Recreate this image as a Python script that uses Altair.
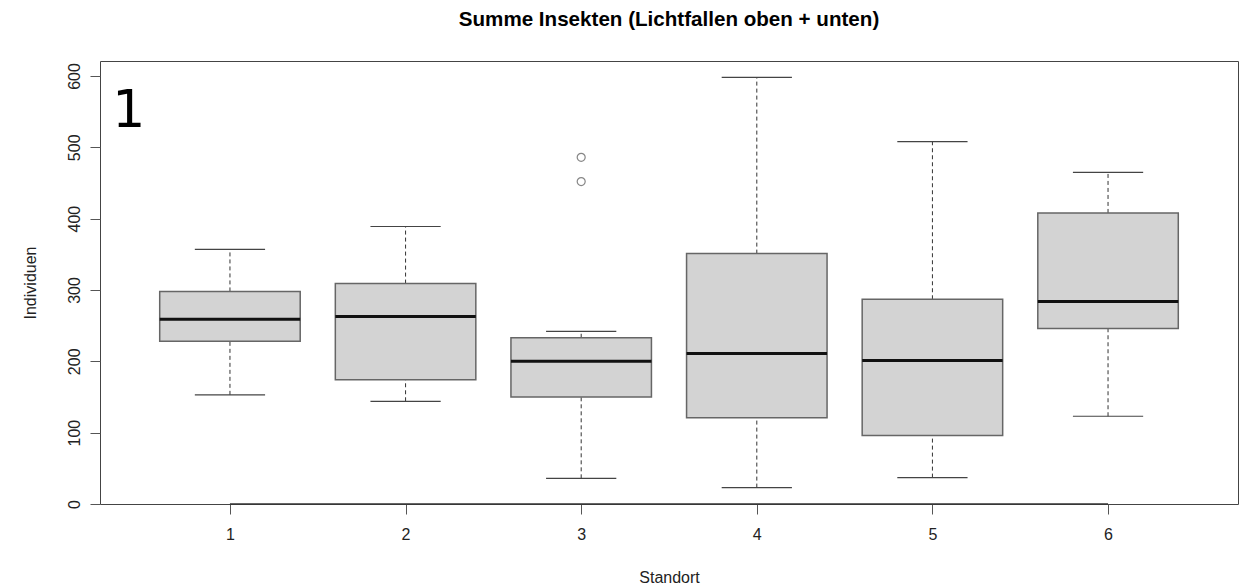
import altair as alt
import pandas as pd

# Five-number summaries per site (Standort)
standort = [1, 2, 3, 4, 5, 6]
lower_whisker = [153, 144, 36, 23, 37, 123]
q1 = [228, 174, 150, 121, 96, 246]
median = [259, 263, 200, 211, 201, 284]
q3 = [298, 309, 233, 351, 287, 408]
upper_whisker = [357, 389, 242, 598, 508, 465]

# Points beyond the whiskers
outlier_site = [3, 3]
outlier_value = [486, 452]

x_ticks = [1, 2, 3, 4, 5, 6]
y_ticks = [0, 100, 200, 300, 400, 500, 600]

stats = pd.DataFrame({
    "standort": standort,
    "lo": lower_whisker,
    "q1": q1,
    "med": median,
    "q3": q3,
    "hi": upper_whisker,
})
outliers = pd.DataFrame({"standort": outlier_site, "value": outlier_value})
panel_label = pd.DataFrame({"x": [0.33], "y": [528], "text": ["1"]})
axis_span = pd.DataFrame({"x": [min(x_ticks)], "x2": [max(x_ticks)], "y": [0]})

FONT = "Liberation Sans"
W, H = 1138, 443

x_scale = alt.Scale(domain=[0.26, 6.74], nice=False, zero=False)
y_scale = alt.Scale(domain=[0, 621], nice=False, zero=False)

x_axis = alt.Axis(
    values=x_ticks, format="d", title="Standort", grid=False, domain=False,
    tickSize=10, tickColor="#555", tickWidth=1, labelPadding=12,
    labelFont=FONT, labelFontSize=16, labelColor="#222",
    titleFont=FONT, titleFontSize=16, titleFontWeight="normal", titleColor="#222",
    titleY=73, titleBaseline="middle",
)
y_axis = alt.Axis(
    values=y_ticks, format="d", title="Individuen", grid=False, domain=False,
    tickSize=10, tickColor="#555", tickWidth=1, labelPadding=11,
    labelAngle=270, labelAlign="center", labelBaseline="alphabetic",
    labelFont=FONT, labelFontSize=16, labelColor="#222",
    titleFont=FONT, titleFontSize=16, titleFontWeight="normal", titleColor="#222",
    titleX=-70, titleY=H / 2, titleAngle=270, titleBaseline="middle",
)


def X(field):
    return alt.X(field, type="quantitative", scale=x_scale, axis=x_axis)


def Y(field):
    return alt.Y(field, type="quantitative", scale=y_scale, axis=y_axis)


base = alt.Chart(stats).transform_calculate(
    box_l="datum.standort - 0.4",
    box_r="datum.standort + 0.4",
    cap_l="datum.standort - 0.2",
    cap_r="datum.standort + 0.2",
)

whisker_hi = base.mark_rule(color="#333", strokeWidth=1, strokeDash=[4, 3]).encode(
    x=X("standort"), y=Y("q3"), y2="hi"
)
whisker_lo = base.mark_rule(color="#333", strokeWidth=1, strokeDash=[4, 3]).encode(
    x=X("standort"), y=Y("lo"), y2="q1"
)
cap_hi = base.mark_rule(color="#444", strokeWidth=1.2).encode(
    x=X("cap_l:Q"), x2="cap_r:Q", y=Y("hi")
)
cap_lo = base.mark_rule(color="#444", strokeWidth=1.2).encode(
    x=X("cap_l:Q"), x2="cap_r:Q", y=Y("lo")
)
boxes = base.mark_rect(fill="#D3D3D3", stroke="#666", strokeWidth=1.5).encode(
    x=X("box_l:Q"), x2="box_r:Q", y=Y("q1"), y2="q3"
)
medians = base.mark_rule(color="#111", strokeWidth=3).encode(
    x=X("box_l:Q"), x2="box_r:Q", y=Y("med")
)
points = alt.Chart(outliers).mark_point(
    shape="circle", filled=False, size=64, stroke="#555", strokeWidth=1.2
).encode(x=X("standort"), y=Y("value"))

axis_line = alt.Chart(axis_span).mark_rule(color="#333", strokeWidth=1.5).encode(
    x=X("x"), x2="x2", y=Y("y")
)

label = alt.Chart(panel_label).mark_text(
    font="DejaVu Sans", fontSize=52, align="left", baseline="alphabetic", color="#000"
).encode(x=X("x"), y=Y("y"), text="text:N")

chart = alt.layer(
    whisker_hi, whisker_lo, cap_hi, cap_lo, boxes, medians, points, axis_line, label
).properties(
    width=W,
    height=H,
    background="white",
    title=alt.TitleParams(
        "Summe Insekten (Lichtfallen oben + unten)",
        font=FONT, fontSize=20.6, fontWeight="bold", color="#000",
        anchor="middle", baseline="alphabetic", offset=14,
    ),
    autosize=alt.AutoSizeParams(type="none"),
    padding={"left": 100, "top": 61, "right": 5, "bottom": 84},
).configure_view(
    stroke="#444", strokeWidth=1
)

chart.save("out.html", embed_options={"renderer": "svg", "actions": False})
